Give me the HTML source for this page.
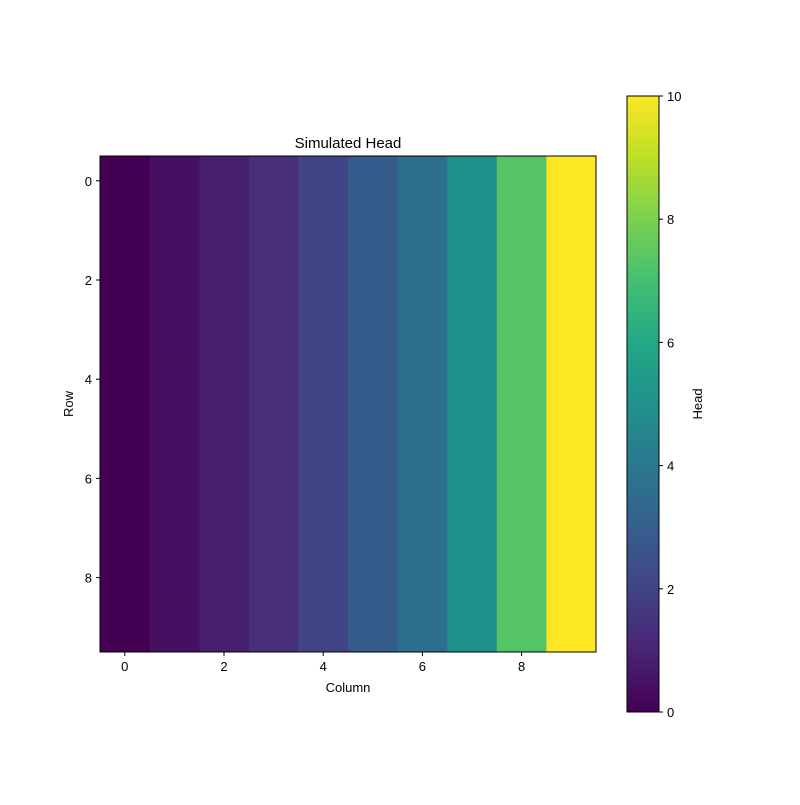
<!DOCTYPE html>
<html><head><meta charset="utf-8"><style>
body{margin:0;background:#fff}
text{font-family:"Liberation Sans","DejaVu Sans",sans-serif;font-size:13px;fill:#000}
</style></head><body>
<svg id="chart" width="800" height="800" xmlns="http://www.w3.org/2000/svg">
<defs><linearGradient id="cbgrad" x1="0" y1="1" x2="0" y2="0"></linearGradient></defs>
<g id="cells"></g>
<rect x="100" y="156" width="496" height="496" fill="none" stroke="#000" stroke-width="1"/>
<g id="axes"></g>
<text x="348" y="148" text-anchor="middle" style="font-size:15px">Simulated Head</text>
<text x="348" y="692" text-anchor="middle">Column</text>
<text transform="translate(73,404) rotate(-90)" text-anchor="middle">Row</text>
<rect x="627" y="96" width="32" height="616" fill="url(#cbgrad)" stroke="#000" stroke-width="1"/>
<text transform="translate(702,404) rotate(-90)" text-anchor="middle">Head</text>
</svg>
<script>
const columns=[0,1,2,3,4,5,6,7,8,9];
const rows=[0,1,2,3,4,5,6,7,8,9];
const columnValues=[0,0.4,0.8,1.3,2.0,2.9,3.6,5.0,7.3,10];
const axisTicks=[0,2,4,6,8];
const cbTicks=[0,2,4,6,8,10];
const vmin=0,vmax=10;
const V=[[68,1,84],[72,36,117],[65,68,135],[53,95,141],[42,120,142],[33,145,140],[34,168,132],[68,191,112],[122,209,81],[189,223,38],[253,231,37]];
function viridis(t){t=Math.max(0,Math.min(1,t));const f=t*10,i=Math.min(9,Math.floor(f)),r=f-i;
return 'rgb('+V[i].map((c,k)=>Math.round(c+(V[i+1][k]-c)*r)).join(',')+')';}
const X0=100,Y0=156,W=496,H=496;
const xs=c=>X0+(c+0.5)*W/10, ys=r=>Y0+(r+0.5)*H/10;
const cbY=v=>712-(v-vmin)/(vmax-vmin)*616;
const NS='http://www.w3.org/2000/svg';
function mk(tag,attrs,parent){const e=document.createElementNS(NS,tag);for(const k in attrs)e.setAttribute(k,attrs[k]);parent.appendChild(e);return e;}
const cells=document.getElementById('cells');
rows.forEach(r=>columns.forEach(c=>{
 const e=mk('rect',{x:xs(c)-W/20,y:ys(r)-H/20,width:W/10+0.5,height:H/10+0.5,fill:viridis((columnValues[c]-vmin)/(vmax-vmin))},cells);
 
 
}));
const ax=document.getElementById('axes');
axisTicks.forEach(t=>{
 const a=mk('line',{x1:xs(t),x2:xs(t),y1:652,y2:656,stroke:'#000'},ax);
 
 const b=mk('text',{x:xs(t),y:671,'text-anchor':'middle'},ax);b.textContent=t;
 
 const c=mk('line',{x1:96,x2:100,y1:ys(t),y2:ys(t),stroke:'#000'},ax);
 
 const d=mk('text',{x:92,y:ys(t)+5,'text-anchor':'end'},ax);d.textContent=t;
 
});
cbTicks.forEach(t=>{
 const a=mk('line',{x1:659,x2:663,y1:cbY(t),y2:cbY(t),stroke:'#000'},ax);
 
 const b=mk('text',{x:667,y:cbY(t)+5},ax);b.textContent=t;
 
});
const g=document.getElementById('cbgrad');
for(let i=0;i<=50;i++){mk('stop',{offset:(i/50),'stop-color':viridis(i/50)},g);}
</script>
</body></html>
